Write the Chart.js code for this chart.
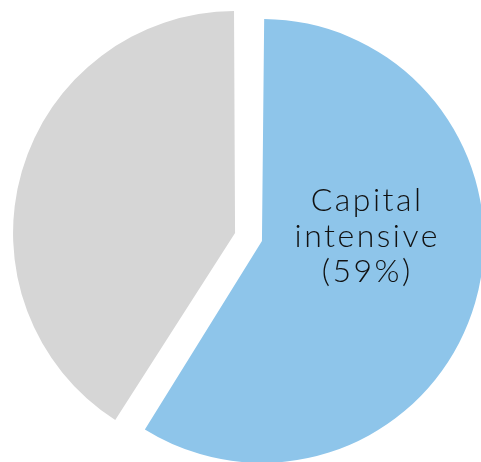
<!DOCTYPE html>
<html>
<head>
<meta charset="utf-8">
<script src="https://cdn.jsdelivr.net/npm/chart.js@4/dist/chart.umd.min.js"></script>
<style>
  html, body { margin: 0; padding: 0; background: #fff; }
  #wrap { width: 481px; height: 462px; }
</style>
</head>
<body>
<div id="wrap"><canvas id="pie"></canvas></div>
<script>
const labels = ['Capital intensive', 'Other'];
const shares = [59, 41];
const colors = ['#8EC5EA', '#D6D6D6'];
const labelLines = [['Capital', 'intensive', '(59%)'], []];

const PIE_R = 222;
const PULL = 56; // arc draws offset/4 px out from the centre

// Chart.js grows the radius of a pulled-out arc a bit; undo that so both slices keep the same size
const evenRadius = {
  id: 'evenRadius',
  beforeDatasetsDraw(chart) {
    chart.getDatasetMeta(0).data.forEach(arc => {
      const circ = arc.endAngle - arc.startAngle;
      const fix = 1 - Math.sin(Math.min(Math.PI, circ));
      arc.outerRadius = PIE_R - (PULL / 4) * fix;
    });
  }
};

// writes the text lines inside each slice that has some
const sliceText = {
  id: 'sliceText',
  afterDatasetsDraw(chart) {
    const ctx = chart.ctx;
    const arcs = chart.getDatasetMeta(0).data;
    ctx.save();
    ctx.fillStyle = '#111';
    ctx.font = '300 32px Lato, "DejaVu Sans", sans-serif';
    ctx.letterSpacing = '2.5px';
    ctx.textAlign = 'center';
    ctx.textBaseline = 'middle';
    arcs.forEach((arc, i) => {
      const lines = labelLines[i];
      if (!lines.length) return;
      const mid = (arc.startAngle + arc.endAngle) / 2;
      const cx = arc.x + Math.cos(mid) * PULL / 4 + 0.474 * PIE_R;
      const cy = arc.y + Math.sin(mid) * PULL / 4 - 0.02 * PIE_R;
      const lh = 35.5;
      lines.forEach((t, k) => {
        ctx.fillText(t, cx, cy + (k - (lines.length - 1) / 2) * lh);
      });
    });
    ctx.restore();
  }
};

new Chart(document.getElementById('pie').getContext('2d'), {
  type: 'pie',
  data: {
    labels: labels,
    datasets: [{
      data: shares,
      backgroundColor: colors,
      borderWidth: 0,
      offset: PULL,
      hoverOffset: 0
    }]
  },
  options: {
    responsive: true,
    maintainAspectRatio: false,
    animation: false,
    radius: PIE_R,
    layout: { padding: { left: 16, right: 0, top: 12, bottom: 0 } },
    plugins: {
      legend: { display: false },
      tooltip: { enabled: false }
    }
  },
  plugins: [evenRadius, sliceText]
});
</script>
</body>
</html>
